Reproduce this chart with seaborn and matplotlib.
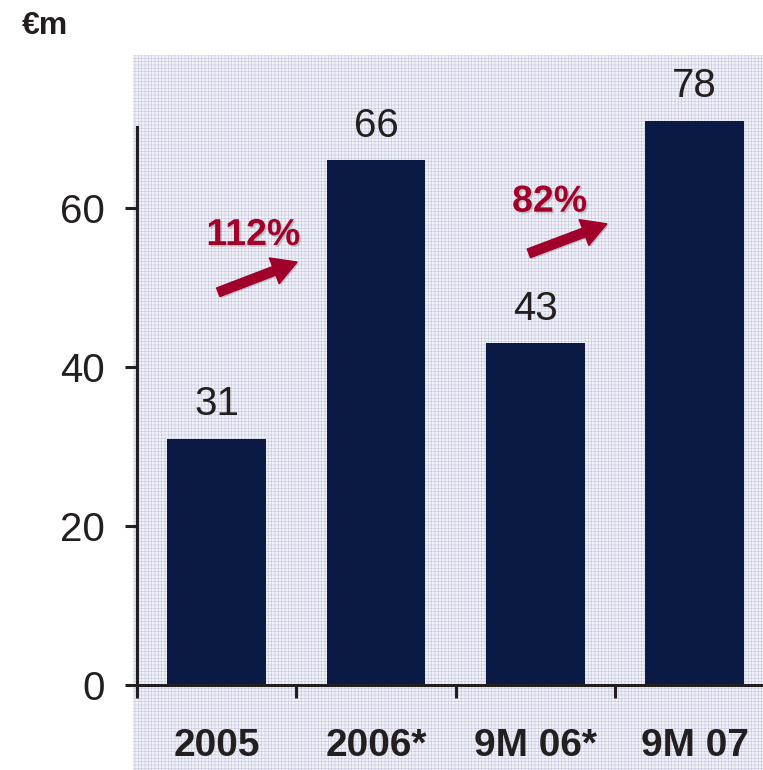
import numpy as np
import pandas as pd
import matplotlib
matplotlib.use('Agg')
import matplotlib.pyplot as plt
import matplotlib.patheffects as pe
from matplotlib.patches import Rectangle
import seaborn as sns

# ── data ──────────────────────────────────────────────────────────────────────
periods = ['2005', '2006*', '9M 06*', '9M 07']
bar_heights = [31, 66, 43, 71]          # drawn heights as they appear in the chart
value_labels = ['31', '66', '43', '78']  # printed labels
growth_labels = ['112%', '82%']
y_ticks = [0, 20, 40, 60]

NAVY = '#0b1a44'
RED = '#a1002b'
INK = '#231f20'

sns.set_theme(style='white')
plt.rcParams['font.family'] = ['Liberation Sans', 'DejaVu Sans']
plt.rcParams['hatch.linewidth'] = 0.4
plt.rcParams['hatch.color'] = '#c3c6dc'

fig = plt.figure(figsize=(7.63, 7.70), dpi=100)

# patterned backdrop behind the plot area
bg = Rectangle((133 / 763, 0), 1 - 133 / 763, 1 - 55 / 770, transform=fig.transFigure,
               facecolor='#f1f2f8', edgecolor='#c3c6dc', hatch='+++++', lw=0, zorder=-10)
fig.patches.append(bg)

ax = fig.add_axes([137 / 763, 85 / 770, (763 - 137) / 763, 636 / 770])
ax.patch.set_alpha(0)

df = pd.DataFrame({'period': periods, 'value': bar_heights})
sns.barplot(data=df, x='period', y='value', color=NAVY, saturation=1,
            width=0.62, linewidth=0, ax=ax)
for bar in ax.patches:
    bar.set_clip_on(False)

ax.bar_label(ax.containers[0], labels=value_labels, padding=11,
             fontsize=29, color=INK)

ax.set_xlim(-0.5, 3.43)
ax.set_ylim(0, 80)
ax.set_xlabel('')
ax.set_ylabel('')

# y axis
ax.set_yticks(y_ticks)
ax.set_yticklabels([str(t) for t in y_ticks], fontsize=29, color=INK)
ax.tick_params(axis='y', length=9, width=2.2, color=INK, pad=14, left=True)

# x axis: labels under bars, tick marks between categories
ax.set_xticks(range(len(periods)))
ax.set_xticklabels(periods, fontsize=28, fontweight='bold', color=INK)
ax.tick_params(axis='x', which='major', length=0, pad=31)
ax.set_xticks(np.arange(len(periods)) - 0.5, minor=True)
ax.tick_params(axis='x', which='minor', length=9, width=2.2, color=INK, bottom=True)

sns.despine(ax=ax)
for side in ['left', 'bottom']:
    ax.spines[side].set_linewidth(2.2)
    ax.spines[side].set_color(INK)
ax.spines['left'].set_bounds(0, 70.2)

# growth arrows and percentages
shadow = [pe.SimplePatchShadow(offset=(1.2, -1.2), shadow_rgbFace='#888888', alpha=0.4),
          pe.Normal()]
arrows = [((0.01, 49.4), (0.505, 53.2)), ((1.96, 54.3), (2.45, 58.0))]
text_pos = [(0.23, 56.6), (2.09, 60.8)]
for (start, end), (tx, ty), lab in zip(arrows, text_pos, growth_labels):
    ax.annotate('', xy=end, xytext=start,
                arrowprops=dict(arrowstyle='simple,head_length=0.8,head_width=0.9,tail_width=0.3',
                                fc=RED, ec=RED, mutation_scale=22, shrinkA=0, shrinkB=0,
                                path_effects=shadow))
    ax.text(tx, ty, lab, ha='center', va='center', fontsize=27, fontweight='bold',
            color=RED, path_effects=shadow)

fig.text(22 / 763, 1 - 34 / 770, '€m', fontsize=23, fontweight='bold', color=INK,
         va='baseline', ha='left')

fig.savefig('out.png', dpi=100)
